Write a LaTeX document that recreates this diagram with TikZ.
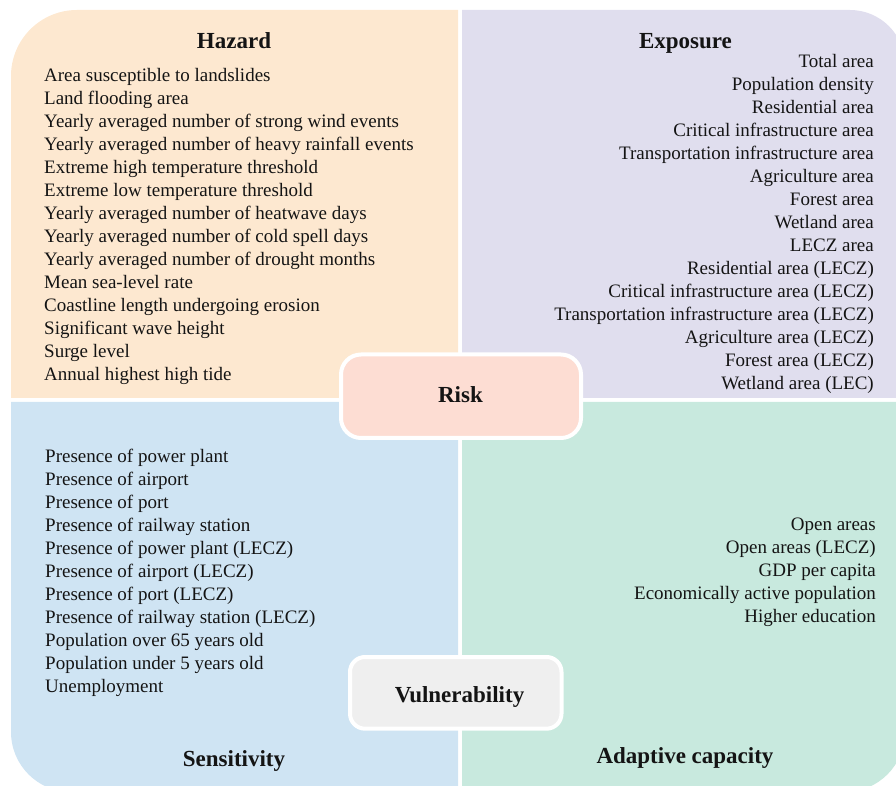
\documentclass[tikz,border=0pt]{standalone}
\usepackage{fontspec}
\setmainfont{Liberation Serif}
\definecolor{hazardfill}{RGB}{253,232,208}
\definecolor{exposurefill}{RGB}{224,222,238}
\definecolor{sensfill}{RGB}{207,228,243}
\definecolor{adaptfill}{RGB}{200,233,222}
\definecolor{riskfill}{RGB}{253,221,211}
\definecolor{vulnfill}{RGB}{239,239,239}
\definecolor{txt}{RGB}{20,20,20}
\begin{document}
\begin{tikzpicture}[x=1pt,y=1pt,
  item/.style={inner sep=0pt, text=txt, font=\fontsize{19}{23}\selectfont},
  titletext/.style={inner sep=0pt, text=txt, font=\fontsize{23}{27}\selectfont\bfseries},
  centerbox/.style={draw=white, line width=4pt, inner sep=0pt}]
\useasboundingbox (0,0) rectangle (896,785);
\clip (0,0) rectangle (896,785);
% quadrants
\fill[hazardfill] (11,387) -- (11,709) arc[start angle=180,end angle=90,radius=66] -- (458,775) -- (458,387) -- cycle;
\fill[exposurefill] (462,387) -- (462,775) -- (850,775) arc[start angle=90,end angle=0,radius=55] -- (905,387) -- cycle;
\fill[sensfill] (458,383) -- (11,383) -- (11,53) arc[start angle=180,end angle=270,radius=60] -- (458,-7) -- cycle;
\fill[adaptfill] (462,383) -- (462,-7) -- (845,-7) arc[start angle=270,end angle=360,radius=60] -- (905,383) -- cycle;
% titles
\node[titletext, anchor=base] (hazard) at (234,736.5) {Hazard};
\node[titletext, anchor=base] (exposure) at (685.5,736.5) {Exposure};
\node[titletext, anchor=base] (sensitivity) at (234,19) {Sensitivity};
\node[titletext, anchor=base] (adaptive) at (685,22) {Adaptive capacity};
% hazard items
\foreach \t [count=\i from 0] in {Area susceptible to landslides, Land flooding area, Yearly averaged number of strong wind events, Yearly averaged number of heavy rainfall events, Extreme high temperature threshold, Extreme low temperature threshold, Yearly averaged number of heatwave days, Yearly averaged number of cold spell days, Yearly averaged number of drought months, Mean sea-level rate, Coastline length undergoing erosion, Significant wave height, Surge level, Annual highest high tide}
  {\node[item, anchor=base west] (hz\i) at (44,703.5-23*\i) {\t};}
% exposure items
\foreach \t [count=\i from 0] in {Total area, Population density, Residential area, Critical infrastructure area, Transportation infrastructure area, Agriculture area, Forest area, Wetland area, LECZ area, Residential area (LECZ), Critical infrastructure area (LECZ), Transportation infrastructure area (LECZ), Agriculture area (LECZ), Forest area (LECZ), Wetland area (LEC)}
  {\node[item, anchor=base east] (ex\i) at (874,717.5-23*\i) {\t};}
% sensitivity items
\foreach \t [count=\i from 0] in {Presence of power plant, Presence of airport, Presence of port, Presence of railway station, Presence of power plant (LECZ), Presence of airport (LECZ), Presence of port (LECZ), Presence of railway station (LECZ), Population over 65 years old, Population under 5 years old, Unemployment}
  {\node[item, anchor=base west] (se\i) at (45,322.5-23*\i) {\t};}
% adaptive items
\foreach \t [count=\i from 0] in {Open areas, Open areas (LECZ), GDP per capita, Economically active population, Higher education}
  {\node[item, anchor=base east] (ad\i) at (876,254.5-23*\i) {\t};}
% centre boxes
\node[centerbox, fill=riskfill, rounded corners=20pt, minimum width=240pt, minimum height=83.5pt] (riskbox) at (461,388.75) {};
\node[titletext, anchor=base] (risk) at (460.5,382) {Risk};
\node[centerbox, fill=vulnfill, rounded corners=15pt, minimum width=211.5pt, minimum height=71.7pt] (vulnbox) at (455.75,92.15) {};
\node[titletext, anchor=base] (vuln) at (459.5,83) {Vulnerability};
\end{tikzpicture}
\end{document}
